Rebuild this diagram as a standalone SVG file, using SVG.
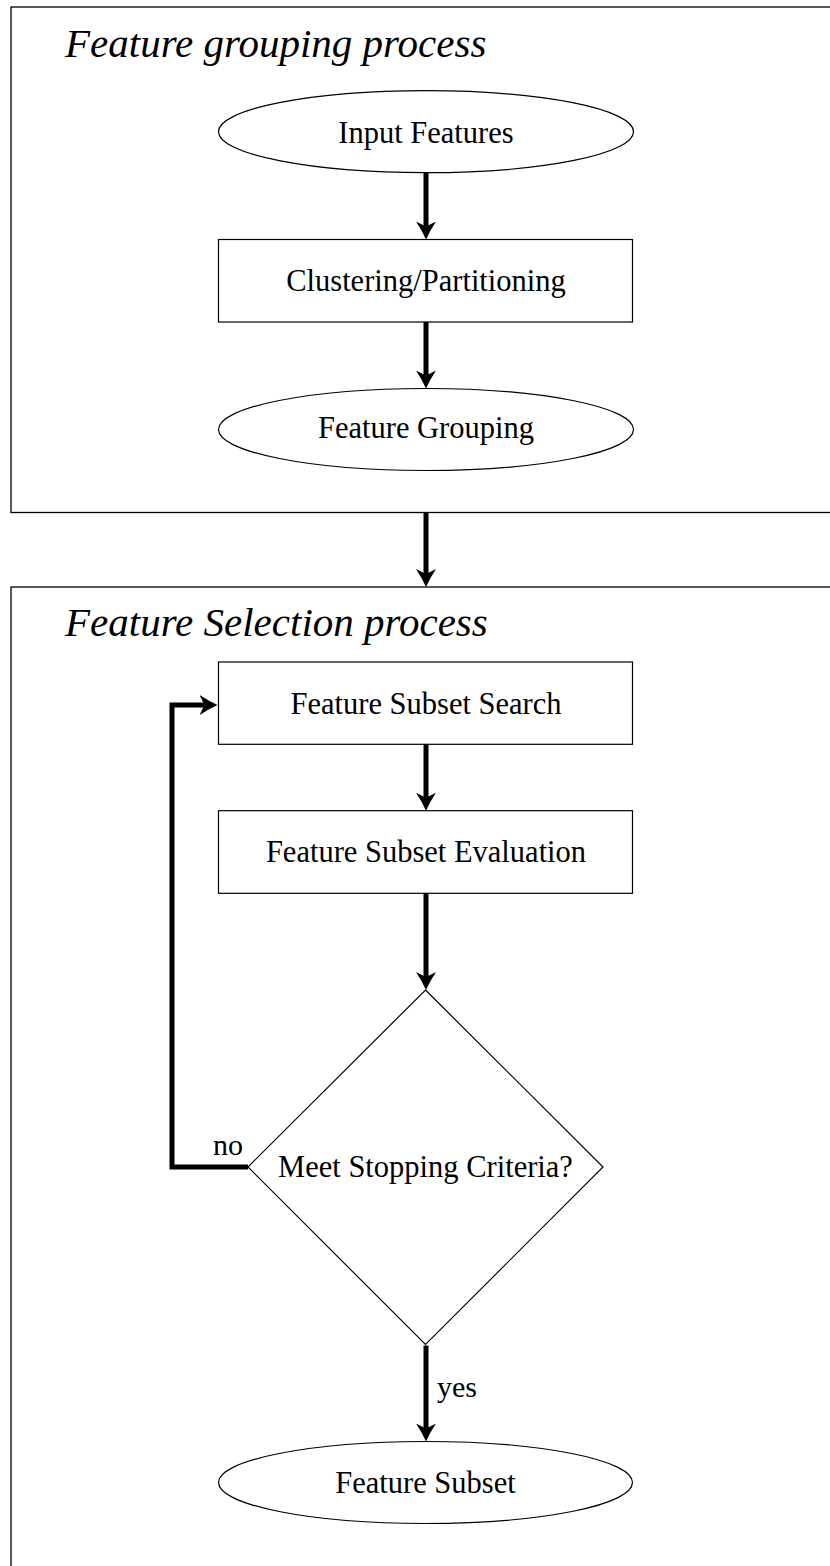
<svg xmlns="http://www.w3.org/2000/svg" width="830" height="1566" viewBox="0 0 830 1566">
  <style>
    .frame { fill: none; stroke: #000; stroke-width: 1.3; }
    .node { fill: #fff; stroke: #000; stroke-width: 1.2; }
    .label { font-family: "Liberation Serif", "Times New Roman", serif; font-size: 30.5px; fill: #000; text-anchor: middle; }
    .title { font-family: "Liberation Serif", "Times New Roman", serif; font-size: 41px; font-style: italic; fill: #000; }
    .edge { fill: none; stroke: #000; stroke-width: 5; stroke-linejoin: miter; }
    .elabel { font-family: "Liberation Serif", "Times New Roman", serif; font-size: 30px; fill: #000; }
  </style>
  <defs>
    <marker id="arrow" markerUnits="userSpaceOnUse" viewBox="0 -10 18 20" refX="5" refY="0" markerWidth="18" markerHeight="20" orient="auto">
      <path d="M0,-10 Q9,-4 18,0 Q9,4 0,10 L5,0 Z" fill="#000"/>
    </marker>
  </defs>
  <rect width="830" height="1566" fill="#fff"/>

  <g id="group-grouping">
    <rect class="frame" x="11" y="7" width="830" height="505.5"/>
    <text class="title" x="65" y="57">Feature grouping process</text>
  </g>
  <g id="group-selection">
    <rect class="frame" x="11" y="587" width="830" height="1000"/>
    <text class="title" x="65" y="636">Feature Selection process</text>
  </g>

  <g id="input-features">
    <ellipse class="node" cx="426" cy="131.7" rx="207.5" ry="41"/>
    <text class="label" x="426" y="142.5">Input Features</text>
  </g>
  <g id="clustering">
    <rect class="node" x="218.5" y="239.5" width="414" height="82.5"/>
    <text class="label" x="426" y="291">Clustering/Partitioning</text>
  </g>
  <g id="feature-grouping">
    <ellipse class="node" cx="426" cy="429.5" rx="207.5" ry="41"/>
    <text class="label" x="426" y="438">Feature Grouping</text>
  </g>
  <g id="subset-search">
    <rect class="node" x="218.5" y="662" width="414" height="82.3"/>
    <text class="label" x="426" y="714">Feature Subset Search</text>
  </g>
  <g id="subset-evaluation">
    <rect class="node" x="218.5" y="810.7" width="414" height="82.6"/>
    <text class="label" x="426" y="862">Feature Subset Evaluation</text>
  </g>
  <g id="stopping-criteria">
    <polygon class="node" stroke-width="1" points="425.5,990 603,1167 425.5,1344.5 248,1167"/>
    <text class="label" x="425.5" y="1177">Meet Stopping Criteria?</text>
  </g>
  <g id="feature-subset">
    <ellipse class="node" cx="425.5" cy="1482.5" rx="207" ry="41"/>
    <text class="label" x="425.5" y="1493">Feature Subset</text>
  </g>

  <g id="connectors">
    <path class="edge" d="M426,173 V226.5" marker-end="url(#arrow)"/>
    <path class="edge" d="M426,322 V375.5" marker-end="url(#arrow)"/>
    <path class="edge" d="M426,513 V574" marker-end="url(#arrow)"/>
    <path class="edge" d="M426,744.3 V797.7" marker-end="url(#arrow)"/>
    <path class="edge" d="M426,893.3 V977" marker-end="url(#arrow)"/>
    <path class="edge" d="M426,1345.5 V1428.5" marker-end="url(#arrow)"/>
    <path class="edge" d="M248,1167 H172 V705 H204.5" marker-end="url(#arrow)"/>
    <text class="elabel" x="213" y="1155">no</text>
    <text class="elabel" x="437" y="1397">yes</text>
  </g>
</svg>
